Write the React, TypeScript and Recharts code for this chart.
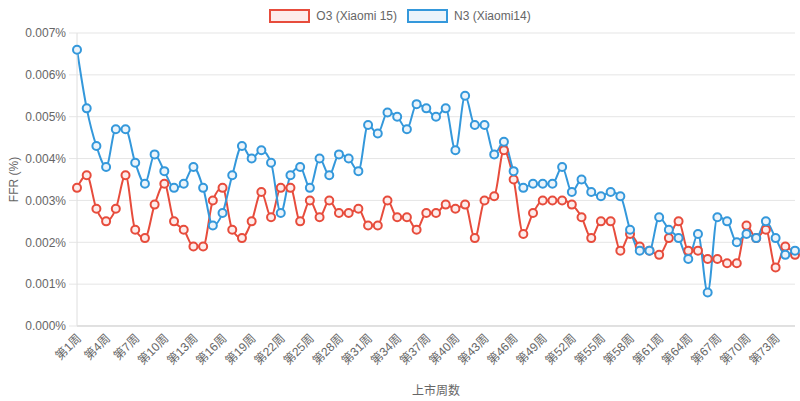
import React from 'react'
import { LineChart, Line, XAxis, YAxis, CartesianGrid } from 'recharts'

// FFR (%) per launch week
const weeks = Array.from({ length: 75 }, (_, i) => `第${i + 1}周`)

const o3Values = [
  0.0033, 0.0036, 0.0028, 0.0025, 0.0028, 0.0036, 0.0023, 0.0021, 0.0029, 0.0034,
  0.0025, 0.0023, 0.0019, 0.0019, 0.003, 0.0033, 0.0023, 0.0021, 0.0025, 0.0032,
  0.0026, 0.0033, 0.0033, 0.0025, 0.003, 0.0026, 0.003, 0.0027, 0.0027, 0.0028,
  0.0024, 0.0024, 0.003, 0.0026, 0.0026, 0.0023, 0.0027, 0.0027, 0.0029, 0.0028,
  0.0029, 0.0021, 0.003, 0.0031, 0.0042, 0.0035, 0.0022, 0.0027, 0.003, 0.003,
  0.003, 0.0029, 0.0026, 0.0021, 0.0025, 0.0025, 0.0018, 0.0022, 0.0019, 0.0018,
  0.0017, 0.0021, 0.0025, 0.0018, 0.0018, 0.0016, 0.0016, 0.0015, 0.0015, 0.0024,
  0.0021, 0.0023, 0.0014, 0.0019, 0.0017,
]

const n3Values = [
  0.0066, 0.0052, 0.0043, 0.0038, 0.0047, 0.0047, 0.0039, 0.0034, 0.0041, 0.0037,
  0.0033, 0.0034, 0.0038, 0.0033, 0.0024, 0.0027, 0.0036, 0.0043, 0.004, 0.0042,
  0.0039, 0.0027, 0.0036, 0.0038, 0.0033, 0.004, 0.0036, 0.0041, 0.004, 0.0037,
  0.0048, 0.0046, 0.0051, 0.005, 0.0047, 0.0053, 0.0052, 0.005, 0.0052, 0.0042,
  0.0055, 0.0048, 0.0048, 0.0041, 0.0044, 0.0037, 0.0033, 0.0034, 0.0034, 0.0034,
  0.0038, 0.0032, 0.0035, 0.0032, 0.0031, 0.0032, 0.0031, 0.0023, 0.0018, 0.0018,
  0.0026, 0.0023, 0.0021, 0.0016, 0.0022, 0.0008, 0.0026, 0.0025, 0.002, 0.0022,
  0.0021, 0.0025, 0.0021, 0.0017, 0.0018,
]

const yTicks = [0, 0.001, 0.002, 0.003, 0.004, 0.005, 0.006, 0.007]

const series = [
  { key: 'o3', name: 'O3 (Xiaomi 15)', color: '#e74c3c', fill: '#fdeceb' },
  { key: 'n3', name: 'N3 (Xiaomi14)', color: '#3498db', fill: '#ebf4fb' },
]

const data = weeks.map((week, i) => ({ week, o3: o3Values[i], n3: n3Values[i] }))

const FONT = '"Liberation Sans", Arial, "Noto Sans CJK SC", sans-serif'

const XTick = (props: any) => {
  const { x, y, payload } = props
  const tx = x + 2
  return (
    <text
      x={tx}
      y={y}
      transform={`rotate(-45 ${tx} ${y})`}
      textAnchor="end"
      dy="0.35em"
      fill="#666"
      fontSize={12}
      fontFamily={FONT}
    >
      {payload.value}
    </text>
  )
}

const YTitle = (props: any) => {
  const { viewBox } = props
  const cy = viewBox.y + viewBox.height / 2
  return (
    <text
      x={14}
      y={cy}
      transform={`rotate(-90 14 ${cy})`}
      textAnchor="middle"
      dominantBaseline="central"
      fill="#666"
      fontSize={12}
      fontFamily={FONT}
    >
      FFR (%)
    </text>
  )
}

export default function App() {
  return (
    <div style={{ position: 'absolute', left: 0, top: 0, width: 800, height: 401, background: '#fff', fontFamily: FONT }}>
      <div
        style={{
          position: 'absolute',
          top: 9,
          left: 0,
          width: 800,
          display: 'flex',
          justifyContent: 'center',
          gap: 10,
          fontSize: 12,
          color: '#666',
        }}
      >
        {series.map((s) => (
          <div key={s.key} style={{ display: 'flex', alignItems: 'center', gap: 6 }}>
            <span
              style={{
                display: 'inline-block',
                width: 37,
                height: 10,
                border: `2px solid ${s.color}`,
                background: s.fill,
              }}
            />
            <span>{s.name}</span>
          </div>
        ))}
      </div>
      <LineChart width={800} height={401} data={data} margin={{ top: 33, right: 5, left: 0, bottom: 0 }}>
        <CartesianGrid vertical={false} stroke="#e5e5e5" />
        <XAxis
          dataKey="week"
          interval={2}
          height={75}
          tickLine={false}
          tickSize={0}
          tickMargin={10}
          axisLine={{ stroke: '#cfcfcf' }}
          tick={<XTick />}
          label={{ value: '上市周数', position: 'insideBottom', offset: 6, fill: '#666', fontSize: 12, fontFamily: FONT }}
        />
        <YAxis
          width={77}
          domain={[0, 0.007]}
          ticks={yTicks}
          tickFormatter={(v: number) => `${v.toFixed(3)}%`}
          axisLine={{ stroke: '#dedede' }}
          tickLine={{ stroke: '#e5e5e5' }}
          tickSize={8}
          tickMargin={3}
          tick={{ fill: '#666', fontSize: 12, fontFamily: FONT }}
          label={<YTitle />}
        />
        {series.map((s) => (
          <Line
            key={s.key}
            type="monotone"
            dataKey={s.key}
            name={s.name}
            stroke={s.color}
            strokeWidth={2}
            dot={{ r: 4, stroke: s.color, strokeWidth: 2, fill: s.fill }}
            activeDot={false}
            isAnimationActive={false}
          />
        ))}
      </LineChart>
    </div>
  )
}
